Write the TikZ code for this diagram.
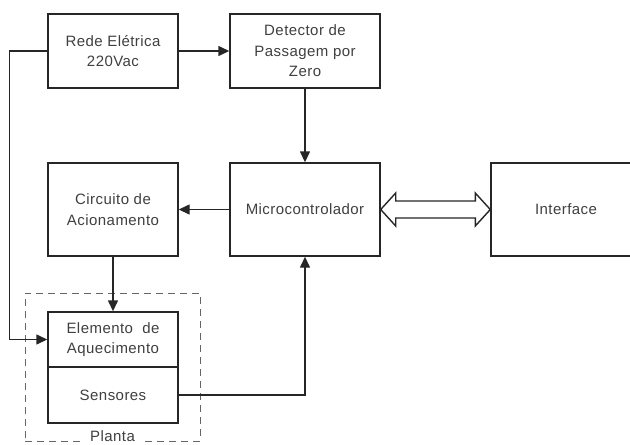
\documentclass[tikz,border=0pt]{standalone}
\usepackage{fontspec}
\setmainfont{Liberation Sans}[LetterSpace=3]
\usetikzlibrary{arrows.meta,calc}
\begin{document}
\begin{tikzpicture}[x=1pt,y=-1pt,
  blk/.style={draw=black!85,line width=1.4pt,fill=white,inner sep=0pt,align=center,
    font=\fontsize{15}{20.5}\selectfont,text=black!75},
  conn/.style={draw=black!85,line width=1.4pt,-{Triangle[length=11pt,width=10pt]}},
  dbl/.style={draw=black!85,line width=1.4pt,fill=white,line join=miter},
  grp/.style={draw=black!60,line width=1pt,dash pattern=on 7pt off 5pt,inner sep=0pt}]
\useasboundingbox (0,0) rectangle (630,445);
\clip (0,0) rectangle (630,445);

\node[grp,minimum width=175pt,minimum height=148pt] (plantabox) at (112.5,367) {};
\node[fill=white,inner xsep=7pt,inner ysep=0.5pt,font=\fontsize{15}{18}\selectfont,text=black!75,anchor=base] (planta) at (112.5,441.5) {Planta};

\node[blk,minimum width=130pt,minimum height=74pt] (rede) at (113,51) {Rede Elétrica\\220Vac};
\node[blk,minimum width=150pt,minimum height=74pt] (det) at (305,51) {Detector de\\Passagem por\\Zero};
\node[blk,minimum width=130pt,minimum height=93pt] (circ) at (113,209.5) {Circuito de\\Acionamento};
\node[blk,minimum width=150pt,minimum height=93pt] (micro) at (305,209.5) {Microcontrolador};
\node[blk,minimum width=150pt,minimum height=93pt] (iface) at (566,209.5) {Interface};
\node[blk,minimum width=130pt,minimum height=55pt] (heat) at (113,339.5) {Elemento\ \ de\\Aquecimento};
\node[blk,minimum width=130pt,minimum height=56pt] (sens) at (113,395) {Sensores};

\draw[conn] (rede) -- (det);
\draw[conn] (det) -- (micro);
\draw[conn] (micro) -- (circ);
\draw[conn] (circ) -- (heat);
\draw[conn] (rede.west) -- ++(-38,0) |- (heat.west);
\draw[conn] (sens.east) -| (micro.south);

\draw[dbl] (micro.east) -- ++(15,-16.5) -- ++(0,8) -- ($(iface.west)+(-15,-8.5)$)
  -- ++(0,-8) -- (iface.west) -- ++(-15,16.5) -- ++(0,-8)
  -- ($(micro.east)+(15,8.5)$) -- ++(0,8) -- cycle;
\end{tikzpicture}
\end{document}
